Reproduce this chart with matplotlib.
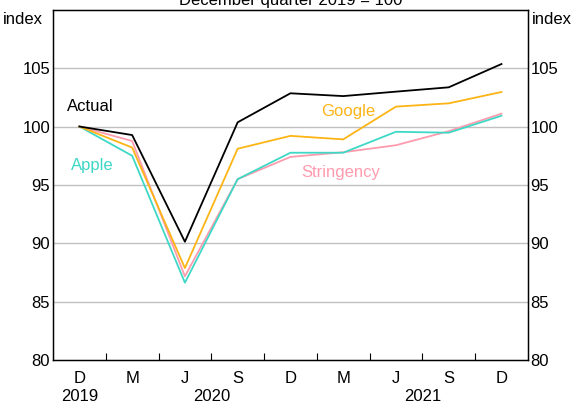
import numpy as np
import matplotlib.pyplot as plt
import matplotlib.transforms as mtransforms

plt.rcParams['font.family'] = ['Liberation Sans', 'DejaVu Sans']

# quarterly data, Dec 2019 = 100
quarters = ['D', 'M', 'J', 'S', 'D', 'M', 'J', 'S', 'D']
years = ['2019', '2020', '2021']
year_pos = [0, 2.5, 6.5]

actual = [100, 99.27, 90.15, 100.36, 102.84, 102.6, 102.98, 103.35, 105.34]
google = [100, 98.2, 87.9, 98.1, 99.2, 98.9, 101.7, 101.98, 102.95]
stringency = [100, 98.76, 87.2, 95.5, 97.4, 97.8, 98.4, 99.6, 101.1]
apple = [100, 97.5, 86.65, 95.5, 97.76, 97.76, 99.55, 99.47, 100.92]

c_actual = 'black'
c_google = '#FDB415'
c_apple = '#3ED8C6'
c_string = '#FF9BAE'

fig = plt.figure(figsize=(5.75, 4.05), dpi=100)
ax = fig.add_axes([0.0922, 0.1099, 0.8258, 0.8666])

x = np.arange(len(quarters))
ax.plot(x, stringency, color=c_string, lw=1.3, zorder=3)
ax.plot(x, apple, color=c_apple, lw=1.3, zorder=3)
ax.plot(x, google, color=c_google, lw=1.3, zorder=4)
ax.plot(x, actual, color=c_actual, lw=1.3, zorder=5)

ax.set_xlim(-0.5, 8.5)
ax.set_ylim(80, 110)
yt = [80, 85, 90, 95, 100, 105]
ax.set_yticks(yt)
ax.set_yticklabels([str(v) for v in yt])
for v in [85, 90, 95, 100, 105]:
    ax.axhline(v, color='#c0c0c0', lw=1, zorder=1)
ax.tick_params(axis='y', length=0, labelsize=12, pad=2)

ax2 = ax.twinx()
ax2.set_ylim(80, 110)
ax2.set_yticks(yt)
ax2.set_yticklabels([str(v) for v in yt])
ax2.tick_params(axis='y', length=0, labelsize=12, pad=2)

# x ticks at category boundaries, pointing inward
ax.set_xticks(np.arange(0.5, 8.5, 1))
ax.set_xticklabels([])
ax.tick_params(axis='x', direction='in', length=5, width=0.8)

trans = mtransforms.blended_transform_factory(ax.transData, ax.transAxes)
for i, q in enumerate(quarters):
    ax.text(i, -0.052, q, transform=trans, ha='center', va='center', fontsize=12)
for p, yr in zip(year_pos, years):
    ax.text(p, -0.104, yr, transform=trans, ha='center', va='center', fontsize=12)

for sp in ax.spines.values():
    sp.set_linewidth(1)

fig.text(0.005, 0.953, 'index', ha='left', va='center', fontsize=12)
fig.text(0.995, 0.953, 'index', ha='right', va='center', fontsize=12)
fig.text(0.505, 1.0, 'December quarter 2019 = 100', ha='center', va='center', fontsize=12)

ax.text(0.2, 101.7, 'Actual', color=c_actual, fontsize=12, ha='center', va='center')
ax.text(0.25, 96.7, 'Apple', color=c_apple, fontsize=12, ha='center', va='center')
ax.text(5.1, 101.3, 'Google', color=c_google, fontsize=12, ha='center', va='center')
ax.text(4.95, 96.1, 'Stringency', color=c_string, fontsize=12, ha='center', va='center')

fig.savefig('out.png', dpi=100)
